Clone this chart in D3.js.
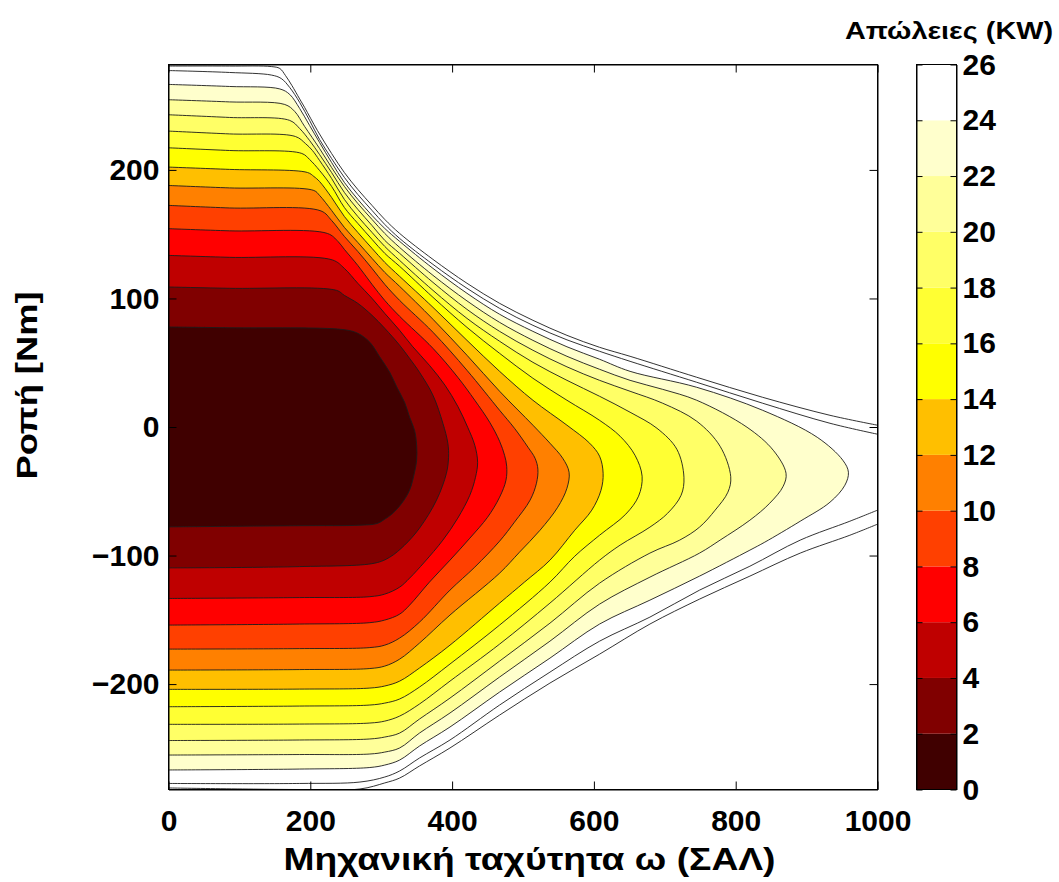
<!DOCTYPE html>
<html>
<head>
<meta charset="utf-8">
<script src="https://cdn.jsdelivr.net/npm/d3@7"></script>
<style>
  html, body { margin: 0; padding: 0; background: #fff; }
  svg text { font-family: "Liberation Sans", Arial, sans-serif; font-weight: bold; fill: #000; }
</style>
</head>
<body>
<svg id="chart" width="1059" height="882"></svg>
<script>
// Loss levels (kW) separating the filled bands
const levels = [0, 2, 4, 6, 8, 10, 12, 14, 16, 18, 20, 22, 24, 26];
// "hot" colour map, one colour per band (0-2, 2-4, ... 24-26)
const hotPalette = ["#400000", "#800000", "#bf0000", "#ff0000", "#ff4000", "#ff8000", "#ffbf00",
                    "#ffff00", "#ffff33", "#ffff66", "#ffff99", "#ffffcc", "#ffffff"];
const speedTicks = [0, 200, 400, 600, 800, 1000];
const torqueTicks = [-200, -100, 0, 100, 200];
const lossTicks = [0, 2, 4, 6, 8, 10, 12, 14, 16, 18, 20, 22, 24, 26];

// Iso-loss contours as [speed (rpm), torque (Nm)], running from the upper
// side at zero speed, round the high-speed tip, back to zero speed below.
const contour02 = [[0,77.8],[86,77.2],[246,75.8],[267,72.9],[284,65.9],[298,54.5],[312,42.6],[322,31.1],[333,19.2],[340,7.8],[347,-2.5],[350,-14.2],[350,-25.8],[347,-35.2],[340,-49.2],[329,-59.3],[316,-67.3],[305,-71.7],[294,-75.1],[270,-76.4],[185,-76.8],[0,-77.7]];
const contour04 = [[0,108.9],[86,107.9],[237,106.3],[248,102.4],[267,96.2],[287,86.9],[305,76.8],[326,63.6],[340,53.4],[354,42.6],[373,24.7],[387,2.9],[394,-12.6],[395,-23.5],[392,-36.0],[378,-56.9],[354,-78.7],[333,-91.9],[312,-101.3],[291,-105.9],[185,-108.6],[0,-109.6]];
const contour06 = [[0,133.5],[86,132.0],[231,130.0],[248,123.4],[267,111.8],[287,100.1],[305,88.4],[326,75.2],[344,62.8],[368,48.0],[390,32.5],[408,16.1],[422,-0.2],[432,-14.2],[436,-27.4],[433,-39.1],[425,-53.1],[408,-70.9],[387,-88.0],[361,-105.1],[340,-117.6],[326,-124.6],[305,-130.0],[284,-132.0],[185,-132.7],[0,-133.4]];
const contour08 = [[0,154.3],[86,152.6],[224,150.6],[239,144.4],[248,138.2],[267,125.7],[287,111.0],[305,98.5],[326,86.1],[373,61.2],[408,38.7],[432,20.8],[453,3.7],[467,-11.1],[474,-22.0],[477,-30.5],[476,-41.4],[467,-54.6],[450,-70.2],[425,-86.5],[397,-103.6],[368,-120.7],[340,-138.6],[326,-145.6],[305,-150.2],[284,-152.2],[185,-153.3],[0,-154.1]];
const contour10 = [[0,172.4],[86,170.4],[215,168.1],[230,160.7],[248,148.3],[267,136.6],[287,123.4],[305,111.0],[326,98.5],[373,73.7],[421,44.1],[467,13.0],[488,-1.0],[507,-15.7],[517,-24.3],[521,-32.8],[519,-43.7],[510,-56.9],[488,-74.0],[467,-88.8],[432,-109.0],[397,-126.9],[354,-151.8],[326,-164.2],[305,-169.7],[284,-171.6],[185,-172.4],[0,-172.8]];
const contour12 = [[0,187.9],[86,186.0],[205,184.0],[213,180.2],[230,168.5],[248,155.3],[267,143.6],[287,131.2],[305,120.3],[326,109.4],[373,83.8],[421,55.8],[467,27.8],[514,1.4],[538,-12.6],[556,-24.3],[565,-35.2],[562,-47.6],[549,-62.4],[524,-80.3],[495,-97.4],[467,-113.7],[397,-146.3],[354,-168.1],[326,-180.6],[305,-186.0],[284,-187.9],[185,-188.7],[0,-189.1]];
const contour14 = [[0,202.2],[86,200.4],[196,198.0],[205,194.9],[213,191.0],[230,178.6],[248,163.8],[267,151.4],[287,139.0],[305,128.1],[326,117.2],[373,93.1],[421,67.4],[467,43.3],[514,20.8],[562,1.4],[594,-12.6],[608,-22.7],[613,-36.0],[610,-49.2],[597,-64.7],[573,-80.3],[538,-103.6],[502,-120.7],[467,-137.0],[397,-169.7],[354,-187.5],[326,-197.7],[305,-201.5],[284,-203.1],[185,-203.9],[0,-204.1]];
const contour16 = [[0,217.2],[86,215.1],[188,212.8],[199,208.1],[213,199.6],[230,187.2],[248,170.8],[267,158.4],[287,146.0],[305,135.1],[326,125.0],[373,100.9],[421,77.5],[467,57.3],[514,37.9],[562,20.8],[608,5.2],[637,-7.2],[658,-22.0],[668,-38.3],[663,-53.8],[645,-67.8],[608,-84.2],[573,-100.5],[538,-120.7],[467,-154.1],[397,-184.4],[354,-202.3],[326,-211.6],[305,-214.8],[284,-216.3],[185,-217.1],[0,-217.6]];
const contour18 = [[0,230.2],[86,228.0],[179,226.0],[193,220.6],[203,215.1],[213,207.4],[230,193.4],[248,177.1],[267,163.8],[287,151.4],[305,140.5],[326,129.6],[373,106.3],[421,84.5],[467,66.7],[514,50.3],[562,36.3],[608,23.9],[651,11.5],[689,-1.0],[717,-17.3],[727,-39.1],[723,-53.1],[704,-67.1],[679,-77.9],[637,-91.9],[608,-103.6],[538,-137.0],[467,-168.9],[397,-197.7],[354,-215.5],[326,-224.9],[305,-228.8],[284,-230.3],[185,-231.1],[0,-231.3]];
const contour20 = [[0,242.9],[86,240.8],[171,238.5],[185,232.2],[199,222.9],[213,212.0],[230,198.0],[248,182.5],[267,169.3],[287,156.8],[305,145.2],[326,135.1],[373,112.5],[421,91.5],[467,74.4],[514,59.7],[562,46.8],[608,36.3],[651,27.8],[697,18.5],[745,4.5],[778,-15.0],[793,-38.7],[789,-50.7],[771,-64.7],[749,-77.9],[721,-88.0],[679,-98.1],[608,-121.5],[538,-152.6],[467,-182.1],[397,-210.9],[354,-227.2],[326,-238.1],[305,-241.2],[284,-242.7],[185,-243.5],[0,-243.9]];
const contour22 = [[0,254.6],[86,252.9],[164,250.9],[178,245.5],[192,233.8],[213,216.7],[230,201.9],[248,187.2],[267,173.9],[287,161.5],[305,150.6],[326,139.7],[373,118.0],[421,98.1],[467,81.4],[514,67.4],[562,55.0],[608,44.9],[651,36.3],[697,29.3],[745,20.8],[816,-0.2],[853,-18.1],[871,-36.0],[867,-46.1],[848,-59.3],[820,-72.5],[778,-88.0],[749,-98.1],[679,-116.8],[608,-137.8],[538,-166.6],[467,-194.5],[397,-222.5],[354,-238.1],[326,-249.7],[305,-252.9],[284,-254.4],[185,-254.8],[0,-255.2]];
const contour24 = [[0,266.5],[86,264.9],[157,263.0],[171,258.7],[185,247.8],[199,234.6],[213,221.4],[230,205.8],[248,190.3],[267,177.1],[287,164.6],[305,154.5],[326,144.4],[373,123.4],[421,104.0],[467,87.7],[514,74.4],[562,62.4],[608,52.7],[651,43.3],[745,30.9],[838,13.0],[915,-8.0],[951,-25.8],[959,-35.2],[954,-45.3],[933,-58.5],[891,-73.3],[841,-89.6],[820,-95.8],[749,-116.0],[679,-134.7],[608,-153.3],[538,-179.8],[467,-206.2],[397,-233.4],[354,-248.2],[326,-259.1],[305,-263.0],[284,-264.9],[185,-266.1],[0,-266.8]];

// The 26 and 28 kW contours run along the torque limit and leave the plot at 1000 rpm
const contour26Upper = [[0,277.3],[86,275.8],[145,273.8],[159,271.1],[171,264.1],[185,252.5],[199,238.5],[213,223.7],[230,208.9],[248,194.2],[267,180.9],[287,168.5],[305,157.6],[326,146.7],[373,126.5],[421,107.9],[467,92.3],[514,79.1],[562,67.8],[608,58.9],[651,51.1],[745,34.8],[838,18.5],[933,2.9],[1000,-5.6]];
const contour26Lower = [[1000,-64.7],[961,-73.3],[891,-88.0],[820,-108.3],[749,-126.9],[679,-147.9],[608,-166.6],[538,-190.7],[467,-216.3],[397,-243.5],[354,-257.5],[326,-267.6],[305,-272.3],[270,-276.2],[185,-277.3],[0,-277.3]];
const contour28Upper = [[0,280.8],[86,280.8],[145,280.4],[157,278.9],[165,273.4],[174,265.7],[185,255.2],[192,248.6],[210,230.7],[230,212.8],[248,198.0],[267,184.8],[287,172.4],[305,161.5],[326,150.6],[373,130.4],[421,111.8],[467,96.2],[514,83.0],[562,71.3],[608,62.0],[651,55.0],[745,38.7],[838,23.1],[933,9.1],[1000,1.4]];
const contour28Lower = [[1000,-75.6],[961,-84.2],[891,-98.1],[820,-116.0],[749,-133.9],[679,-153.3],[608,-176.7],[538,-199.2],[467,-224.1],[397,-249.7],[354,-263.7],[326,-273.1],[305,-276.9],[270,-281.6],[185,-282.0],[0,-280.8]];

// Closed contours, outermost first so each inner band paints over the previous one
const closedContours = [
  { level: 24, points: contour24 }, { level: 22, points: contour22 }, { level: 20, points: contour20 },
  { level: 18, points: contour18 }, { level: 16, points: contour16 }, { level: 14, points: contour14 },
  { level: 12, points: contour12 }, { level: 10, points: contour10 }, { level: 8, points: contour08 },
  { level: 6, points: contour06 }, { level: 4, points: contour04 }, { level: 2, points: contour02 }
];
const openContours = [contour26Upper, contour26Lower, contour28Upper, contour28Lower];

const svg = d3.select("#chart");

const plot = { left: 168.5, right: 877.5, top: 64.5, bottom: 789.5 };
const x = d3.scaleLinear().domain([0, 1000]).range([plot.left, plot.right]);
const y = d3.scaleLinear().domain([-282, 282]).range([plot.bottom, plot.top]);

svg.append("defs").append("clipPath").attr("id", "plotClip")
  .append("rect")
  .attr("x", plot.left).attr("y", plot.top)
  .attr("width", plot.right - plot.left).attr("height", plot.bottom - plot.top);

const area = svg.append("g").attr("clip-path", "url(#plotClip)");

// everything beyond the 24 kW contour is the top (white) band
area.append("rect")
  .attr("x", plot.left).attr("y", plot.top)
  .attr("width", plot.right - plot.left).attr("height", plot.bottom - plot.top)
  .attr("fill", hotPalette[12]);

const contourLine = d3.line()
  .x(d => x(d[0]))
  .y(d => y(d[1]))
  .curve(d3.curveCatmullRom.alpha(0.5));

const bandIndex = level => levels.indexOf(level) - 1;

area.selectAll("path.band")
  .data(closedContours)
  .join("path")
  .attr("class", "band")
  .attr("d", d => contourLine(d.points) + "Z")
  .attr("fill", d => hotPalette[bandIndex(d.level)])
  .attr("stroke", "none");

area.selectAll("path.iso")
  .data(closedContours.map(d => d.points).concat(openContours))
  .join("path")
  .attr("class", "iso")
  .attr("d", d => contourLine(d))
  .attr("fill", "none")
  .attr("stroke", "#1c1c1c")
  .attr("stroke-width", 0.9);

// axes with inward ticks on all four sides
const styleAxis = g => {
  g.attr("font-family", null).attr("font-size", null);
  g.select(".domain").attr("stroke", "#000").attr("stroke-width", 1);
  g.selectAll(".tick line").attr("stroke", "#000").attr("stroke-width", 1);
  g.selectAll("text").style("font-size", "30px");
};

const minus = v => (v < 0 ? "\u2212" + Math.abs(v) : String(v));

svg.append("g").attr("transform", `translate(0,${plot.bottom})`)
  .call(d3.axisBottom(x).tickValues(speedTicks).tickSizeInner(-8).tickSizeOuter(0).tickPadding(20).tickFormat(d3.format("d")))
  .call(styleAxis);
svg.append("g").attr("transform", `translate(0,${plot.top})`)
  .call(d3.axisTop(x).tickValues(speedTicks).tickSizeInner(-8).tickSizeOuter(0).tickFormat(() => ""))
  .call(styleAxis);
svg.append("g").attr("transform", `translate(${plot.left},0)`)
  .call(d3.axisLeft(y).tickValues(torqueTicks).tickSizeInner(-8).tickSizeOuter(0).tickPadding(9).tickFormat(minus))
  .call(styleAxis);
svg.append("g").attr("transform", `translate(${plot.right},0)`)
  .call(d3.axisRight(y).tickValues(torqueTicks).tickSizeInner(-8).tickSizeOuter(0).tickFormat(() => ""))
  .call(styleAxis);

svg.append("rect")
  .attr("x", plot.left).attr("y", plot.top)
  .attr("width", plot.right - plot.left).attr("height", plot.bottom - plot.top)
  .attr("fill", "none").attr("stroke", "#000").attr("stroke-width", 1);

// axis titles
svg.append("text")
  .attr("x", 529.5).attr("y", 870)
  .attr("text-anchor", "middle")
  .attr("textLength", 492).attr("lengthAdjust", "spacingAndGlyphs")
  .style("font-size", "32px")
  .text("Μηχανική ταχύτητα ω (ΣΑΛ)");

svg.append("text")
  .attr("transform", "translate(37,385.5) rotate(-90)")
  .attr("text-anchor", "middle")
  .attr("textLength", 188).attr("lengthAdjust", "spacingAndGlyphs")
  .style("font-size", "30px")
  .text("Ροπή [Nm]");

// colour bar
const cbar = { left: 916.5, right: 956.5 };
const cb = d3.scaleLinear().domain([0, 26]).range([plot.bottom, plot.top]);

svg.append("g").selectAll("rect")
  .data(d3.range(levels.length - 1))
  .join("rect")
  .attr("x", cbar.left)
  .attr("y", i => cb(levels[i + 1]))
  .attr("width", cbar.right - cbar.left)
  .attr("height", i => cb(levels[i]) - cb(levels[i + 1]))
  .attr("fill", i => hotPalette[i]);

svg.append("g").attr("transform", `translate(${cbar.right},0)`)
  .call(d3.axisRight(cb).tickValues(lossTicks).tickSizeInner(-6).tickSizeOuter(0).tickPadding(6))
  .call(styleAxis);
svg.append("g").attr("transform", `translate(${cbar.left},0)`)
  .call(d3.axisLeft(cb).tickValues(lossTicks).tickSizeInner(-6).tickSizeOuter(0).tickFormat(() => ""))
  .call(styleAxis);

svg.append("rect")
  .attr("x", cbar.left).attr("y", plot.top)
  .attr("width", cbar.right - cbar.left).attr("height", plot.bottom - plot.top)
  .attr("fill", "none").attr("stroke", "#000").attr("stroke-width", 1);

svg.append("text")
  .attr("x", 1053).attr("y", 39)
  .attr("text-anchor", "end")
  .attr("textLength", 208).attr("lengthAdjust", "spacingAndGlyphs")
  .style("font-size", "24px")
  .text("Απώλειες (KW)");
</script>
</body>
</html>
